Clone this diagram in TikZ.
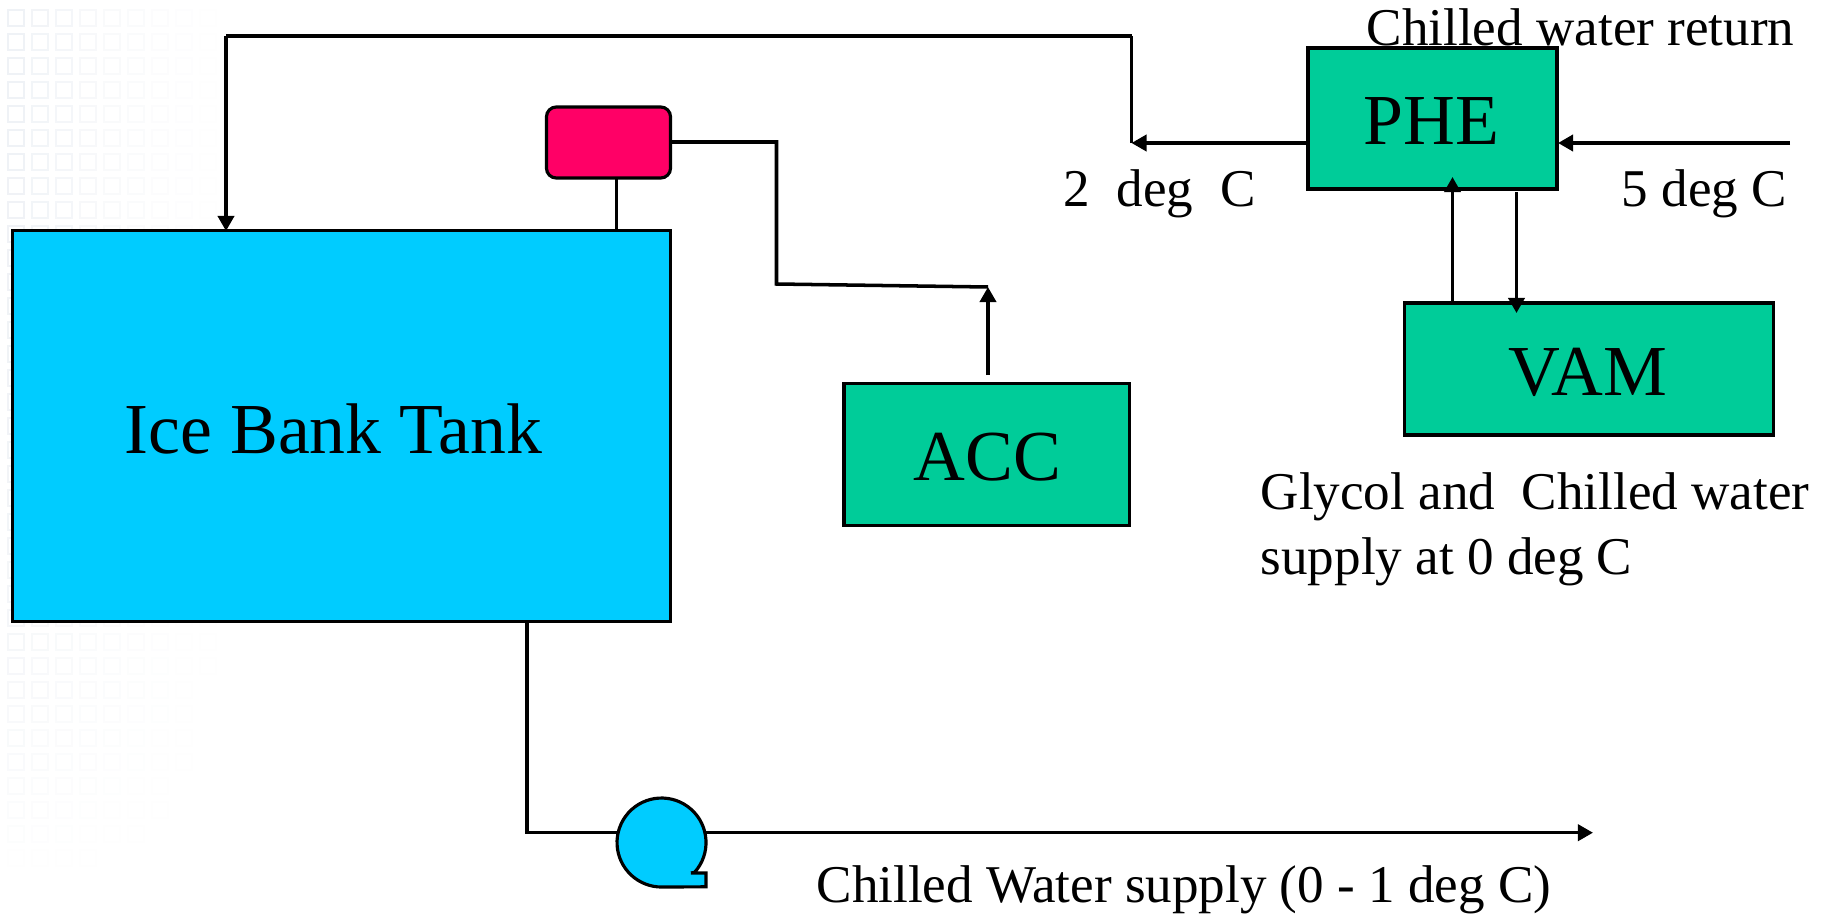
\documentclass[tikz,border=0pt]{standalone}
\usepackage{fontspec}
\setmainfont{Liberation Serif}
\usetikzlibrary{arrows.meta}
\definecolor{tankblue}{HTML}{00CCFF}
\definecolor{unitgreen}{HTML}{00CC99}
\definecolor{vesselred}{HTML}{FF0066}
\definecolor{cellgrey}{HTML}{8FA3BF}

\begin{document}
\begin{tikzpicture}[x=.01cm,y=-.01cm,>={Triangle[length=4.3pt,width=4.6pt]},
  unit/.style={draw=black,line width=.9pt,fill=unitgreen,inner sep=0},
  bigtext/.style={inner sep=0,anchor=base west,font=\fontsize{20.4pt}{24pt}\selectfont},
  smalltext/.style={inner sep=0,anchor=base west,font=\fontsize{15.1pt}{18pt}\selectfont}]
\useasboundingbox(0,0)rectangle(1823,915);
% background cells
\foreach \i in {0,...,10}
\foreach \j in {0,...,36}{
\pgfmathsetmacro\op{max(0,.14*(1-\i/11)^2*(1-(\j/36)^3))}
\draw[cellgrey,line width=.5pt,opacity=\op](8+24*\i,10+24*\j)rectangle++(16,16);
}
% pipe corners
\coordinate(N1)at(527,621);
\coordinate(N2)at(527,832.7);
\coordinate(N3)at(618,832.7);
\coordinate(N4)at(705,832.7);
\coordinate(N5)at(1593,832.7);
\coordinate(N6)at(226,231);
\coordinate(N7)at(226,36);
\coordinate(N8)at(1131.5,36);
\coordinate(N9)at(1131.5,143);
\coordinate(N10)at(1308,143);
\coordinate(N11)at(1790,143);
\coordinate(N12)at(1558,143);
\coordinate(N13)at(1452.5,303);
\coordinate(N14)at(1452.5,177);
\coordinate(N15)at(1516.5,192);
\coordinate(N16)at(1516.5,313);
\coordinate(N17)at(616.5,178);
\coordinate(N18)at(616.5,231);
\coordinate(N19)at(671,142);
\coordinate(N20)at(776.5,142);
\coordinate(N21)at(776.5,284);
\coordinate(N22)at(988,287);
\coordinate(N23)at(988,375);
% units
\node(Tank)[unit,fill=tankblue,minimum width=6.575cm,minimum height=3.9cm]at(341.75,426){};
\node(PHE)[unit,minimum width=2.49cm,minimum height=1.41cm]at(1432.5,118.5){};
\node(VAM)[unit,minimum width=3.68cm,minimum height=1.32cm]at(1589,369){};
\node(ACC)[unit,minimum width=2.85cm,minimum height=1.42cm]at(986.5,454.5){};
\node(Vessel)[unit,fill=vesselred,rounded corners=2.8pt,minimum width=1.24cm,minimum height=.71cm]at(608.5,142.5){};
% pump
\draw[line width=.9pt,fill=tankblue](694.6,872.3)arc[start angle=42,end angle=-270,radius=44.5]--(706,886.8)--(706,873)--(691,873)--cycle;
% pipes
\begin{scope}[line width=1pt]
\draw[->](N7)--(N6);
\draw(N8)--(N7);
\draw(N9)--(N8);
\draw[->](N10)--(N9);
\draw[->](N11)--(N12);
\draw[->](N13)--(N14);
\draw[->](N15)--(N16);
\draw(N17)--(N18);
\draw(N19)--(N20)--(N21)--(N22);
\draw[->](N23)--(N22);
\draw(N1)--(N2)--(N3);
\draw[->](N4)--(N5);
\end{scope}
% labels
\node(TankText)[bigtext]at(124,453){Ice Bank Tank};
\node(PHEText)[bigtext]at(1363,144){PHE};
\node(VAMText)[bigtext]at(1508,395){VAM};
\node(ACCText)[bigtext]at(913,480){ACC};
\node(ReturnText)[smalltext]at(1366,45){Chilled water return};
\node(ColdText)[smalltext]at(1063,206){2\ \ deg\ \ C};
\node(WarmText)[smalltext]at(1621,206){5 deg C};
\node(GlycolText)[smalltext]at(1260,509){Glycol and\ \ Chilled water};
\node(GlycolTextB)[smalltext]at(1260,574){supply at 0 deg C};
\node(SupplyText)[smalltext]at(816,902){Chilled Water supply (0 - 1 deg C)};
\end{tikzpicture}
\end{document}
